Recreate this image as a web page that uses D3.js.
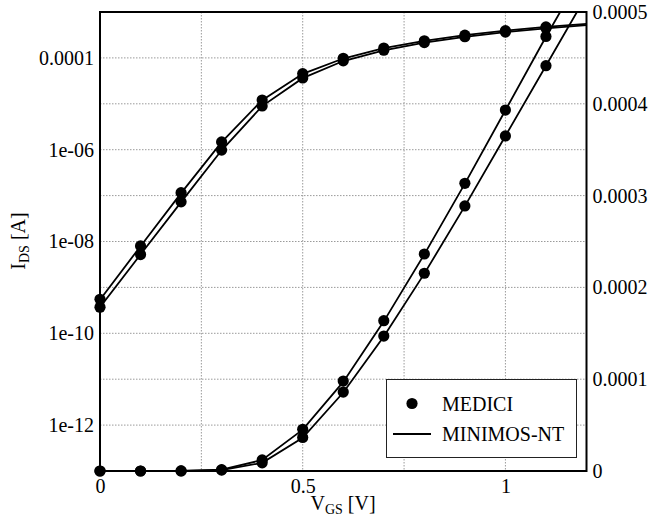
<!DOCTYPE html>
<html>
<head>
<meta charset="utf-8">
<script src="https://cdn.jsdelivr.net/npm/d3@7"></script>
<style>
  html, body { margin: 0; padding: 0; background: #fff; }
  svg { display: block; font-family: "Liberation Serif", "Times New Roman", serif; }
</style>
</head>
<body>
<svg id="chart" width="651" height="522"></svg>
<script>
// Gate voltage steps of the simulated sweeps
const vgsMedici = [0, 0.1, 0.2, 0.3, 0.4, 0.5, 0.6, 0.7, 0.8, 0.9, 1.0, 1.1];
const vgsMinimos = [0, 0.1, 0.2, 0.3, 0.4, 0.5, 0.6, 0.7, 0.8, 0.9, 1.0, 1.1, 1.2];

// Drain current [A], two devices, MEDICI reference points
const mediciA = [5.5e-10, 8.0e-9, 1.16e-7, 1.48e-6, 1.21e-5, 4.55e-5, 9.8e-5, 1.637e-4, 2.364e-4, 3.134e-4, 3.932e-4, 4.733e-4];
const mediciB = [3.7e-10, 5.2e-9, 7.3e-8, 9.8e-7, 8.95e-6, 3.65e-5, 8.6e-5, 1.47e-4, 2.154e-4, 2.887e-4, 3.65e-4, 4.415e-4];

// Drain current [A], MINIMOS-NT curves
const minimosA = [5.4e-10, 7.9e-9, 1.13e-7, 1.46e-6, 1.2e-5, 4.5e-5, 9.7e-5, 1.63e-4, 2.36e-4, 3.13e-4, 3.93e-4, 4.73e-4, 5.5e-4];
const minimosB = [3.7e-10, 5.2e-9, 7.2e-8, 9.7e-7, 8.9e-6, 3.62e-5, 8.55e-5, 1.465e-4, 2.15e-4, 2.885e-4, 3.65e-4, 4.415e-4, 5.18e-4];

// Axis ticks
const xTicks = [0, 0.5, 1];
const xTickLabels = ["0", "0.5", "1"];
const xGrid = [0.25, 0.5, 0.75, 1.0];
const logTicks = [1e-4, 1e-6, 1e-8, 1e-10, 1e-12];
const logTickLabels = ["0.0001", "1e-06", "1e-08", "1e-10", "1e-12"];
const logGrid = [1e-12, 1e-11, 1e-10, 1e-9, 1e-8, 1e-7, 1e-6, 1e-5, 1e-4];
const linTicks = [0, 1e-4, 2e-4, 3e-4, 4e-4, 5e-4];
const linTickLabels = ["0", "0.0001", "0.0002", "0.0003", "0.0004", "0.0005"];

const legendLabels = ["MEDICI", "MINIMOS-NT"];

const svg = d3.select("#chart");
const pLeft = 100, pRight = 586.5, pTop = 12, pBottom = 471;

const x = d3.scaleLinear().domain([0, 1.2]).range([pLeft, pRight]);
const yLog = d3.scaleLog().domain([1e-13, 1e-3]).range([pBottom, pTop]);
const yLin = d3.scaleLinear().domain([0, 5e-4]).range([pBottom, pTop]);

svg.append("defs").append("clipPath").attr("id", "plotClip")
  .append("rect").attr("x", pLeft).attr("y", pTop)
  .attr("width", pRight - pLeft).attr("height", pBottom - pTop);

// Dotted grid
const grid = svg.append("g").attr("stroke", "#9a9a9a").attr("stroke-width", 1)
  .attr("stroke-dasharray", "1.5,1.5").attr("fill", "none");
grid.selectAll("line.v").data(xGrid).join("line").attr("class", "v")
  .attr("x1", d => x(d)).attr("x2", d => x(d))
  .attr("y1", pTop).attr("y2", pBottom);
grid.selectAll("line.h").data(logGrid).join("line").attr("class", "h")
  .attr("x1", pLeft).attr("x2", pRight)
  .attr("y1", d => yLog(d)).attr("y2", d => yLog(d));

// Axes (labels only)
const fontSize = 20;
const xAxis = d3.axisBottom(x).tickValues(xTicks).tickSize(0).tickPadding(8)
  .tickFormat((d, i) => xTickLabels[i]);
const gx = svg.append("g").attr("transform", `translate(0,${pBottom})`).call(xAxis);

const yAxisL = d3.axisLeft(yLog).tickValues(logTicks).tickSize(0).tickPadding(6)
  .tickFormat((d, i) => logTickLabels[i]);
const gyl = svg.append("g").attr("transform", `translate(${pLeft},0)`).call(yAxisL);

const yAxisR = d3.axisRight(yLin).tickValues(linTicks).tickSize(0).tickPadding(6)
  .tickFormat((d, i) => linTickLabels[i]);
const gyr = svg.append("g").attr("transform", `translate(${pRight},0)`).call(yAxisR);

[gx, gyl, gyr].forEach(g => {
  g.select(".domain").remove();
  g.selectAll("text").attr("font-family", "Liberation Serif, serif")
    .attr("font-size", fontSize).attr("fill", "#000");
});

// Curves
const plot = svg.append("g").attr("clip-path", "url(#plotClip)");
const lineLog = d3.line().x(d => x(d[0])).y(d => yLog(d[1]));
const lineLin = d3.line().x(d => x(d[0])).y(d => yLin(d[1]));

[minimosA, minimosB].forEach(series => {
  const pts = vgsMinimos.map((v, i) => [v, series[i]]);
  plot.append("path").datum(pts).attr("d", lineLog)
    .attr("fill", "none").attr("stroke", "#000").attr("stroke-width", 1.8);
  plot.append("path").datum(pts).attr("d", lineLin)
    .attr("fill", "none").attr("stroke", "#000").attr("stroke-width", 1.8);
});

const dotR = 5.6;
[mediciA, mediciB].forEach(series => {
  const pts = vgsMedici.map((v, i) => [v, series[i]]);
  svg.append("g").selectAll("circle").data(pts).join("circle")
    .attr("cx", d => x(d[0])).attr("cy", d => yLog(d[1])).attr("r", dotR).attr("fill", "#000");
  svg.append("g").selectAll("circle").data(pts).join("circle")
    .attr("cx", d => x(d[0])).attr("cy", d => yLin(d[1])).attr("r", dotR).attr("fill", "#000");
});

// Frame
svg.append("rect").attr("x", pLeft).attr("y", pTop)
  .attr("width", pRight - pLeft).attr("height", pBottom - pTop)
  .attr("fill", "none").attr("stroke", "#000").attr("stroke-width", 2);

// Legend
const lg = svg.append("g");
lg.append("rect").attr("x", 386.5).attr("y", 379.5).attr("width", 190).attr("height", 78)
  .attr("fill", "#fff").attr("stroke", "#222").attr("stroke-width", 1);
lg.append("circle").attr("cx", 412).attr("cy", 403.5).attr("r", dotR).attr("fill", "#000");
lg.append("line").attr("x1", 393).attr("x2", 431).attr("y1", 434).attr("y2", 434)
  .attr("stroke", "#000").attr("stroke-width", 1.8);
lg.selectAll("text").data(legendLabels).join("text")
  .attr("x", 442).attr("y", (d, i) => 410.5 + i * 30.5)
  .attr("font-size", fontSize).attr("fill", "#000").text(d => d);

// Axis titles
const xt = svg.append("text").attr("x", 343).attr("y", 510)
  .attr("text-anchor", "middle").attr("font-size", fontSize);
xt.append("tspan").text("V");
xt.append("tspan").attr("font-size", 14).attr("dy", 4).text("GS");
xt.append("tspan").attr("dy", -4).text(" [V]");

const yt = svg.append("text").attr("transform", "translate(25,241) rotate(-90)")
  .attr("text-anchor", "middle").attr("font-size", fontSize);
yt.append("tspan").text("I");
yt.append("tspan").attr("font-size", 14).attr("dy", 4).text("DS");
yt.append("tspan").attr("dy", -4).text(" [A]");
</script>
</body>
</html>
